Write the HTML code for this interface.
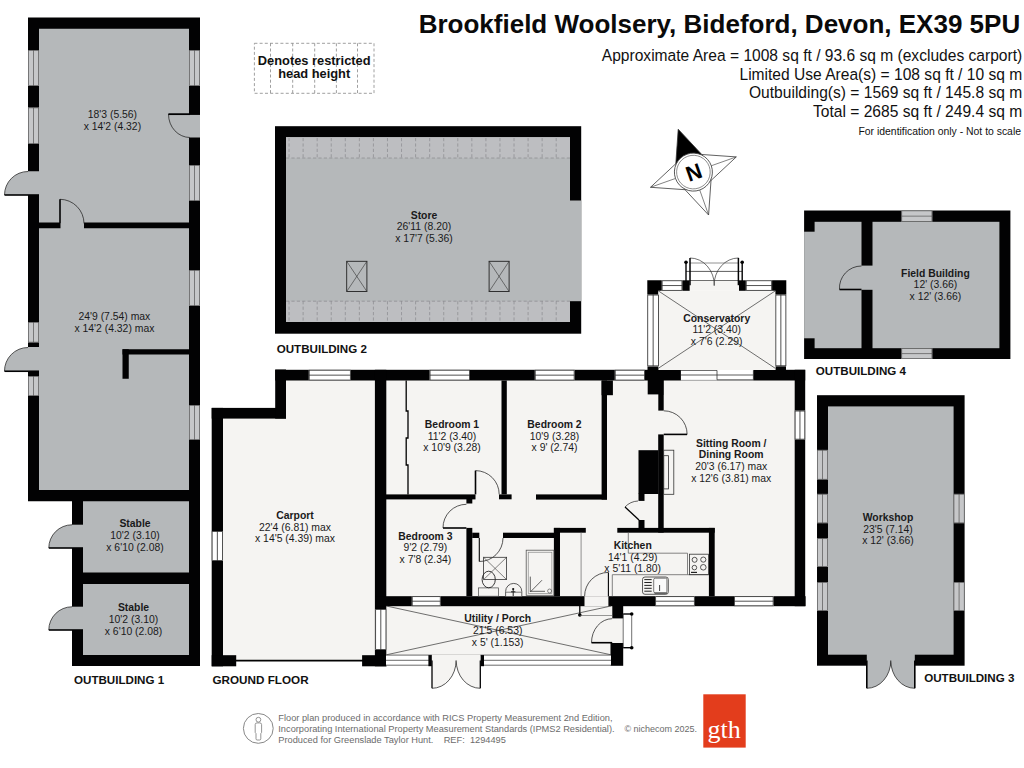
<!DOCTYPE html>
<html><head><meta charset="utf-8"><title>Floor plan - Brookfield Woolsery</title>
<style>
html,body{margin:0;padding:0;background:#ffffff;}
svg{display:block;font-family:"Liberation Sans", sans-serif;}
</style></head>
<body>
<svg width="1024" height="768" viewBox="0 0 1024 768">
<rect x="0" y="0" width="1024" height="768" fill="#ffffff"/>
<rect x="28.00" y="17.50" width="172.00" height="483.75" fill="#020203"/>
<rect x="72.00" y="490.00" width="128.00" height="176.00" fill="#020203"/>
<rect x="39.00" y="28.75" width="150.00" height="193.75" fill="#b5b8ba"/>
<rect x="39.00" y="228.25" width="150.00" height="261.75" fill="#b5b8ba"/>
<rect x="60.50" y="222.00" width="23.50" height="7.00" fill="#b5b8ba"/>
<rect x="122.50" y="349.25" width="66.50" height="5.25" fill="#020203"/>
<rect x="122.50" y="349.25" width="6.25" height="29.50" fill="#020203"/>
<rect x="83.00" y="501.25" width="106.00" height="71.25" fill="#b5b8ba"/>
<rect x="83.00" y="584.00" width="106.00" height="71.00" fill="#b5b8ba"/>
<rect x="28.00" y="50.00" width="11.00" height="36.00" fill="#c6c7c9"/>
<rect x="28.35" y="50.35" width="10.30" height="35.30" fill="none" stroke="#555" stroke-width="0.7"/>
<line x1="33.50" y1="50.00" x2="33.50" y2="86.00" stroke="#555" stroke-width="0.7"/>
<rect x="28.00" y="107.50" width="11.00" height="36.50" fill="#c6c7c9"/>
<rect x="28.35" y="107.85" width="10.30" height="35.80" fill="none" stroke="#555" stroke-width="0.7"/>
<line x1="33.50" y1="107.50" x2="33.50" y2="144.00" stroke="#555" stroke-width="0.7"/>
<rect x="28.00" y="322.00" width="11.00" height="20.50" fill="#c6c7c9"/>
<rect x="28.35" y="322.35" width="10.30" height="19.80" fill="none" stroke="#555" stroke-width="0.7"/>
<line x1="33.50" y1="322.00" x2="33.50" y2="342.50" stroke="#555" stroke-width="0.7"/>
<rect x="28.00" y="376.00" width="11.00" height="20.00" fill="#c6c7c9"/>
<rect x="28.35" y="376.35" width="10.30" height="19.30" fill="none" stroke="#555" stroke-width="0.7"/>
<line x1="33.50" y1="376.00" x2="33.50" y2="396.00" stroke="#555" stroke-width="0.7"/>
<rect x="189.00" y="50.00" width="11.00" height="36.00" fill="#c6c7c9"/>
<rect x="189.35" y="50.35" width="10.30" height="35.30" fill="none" stroke="#555" stroke-width="0.7"/>
<line x1="194.50" y1="50.00" x2="194.50" y2="86.00" stroke="#555" stroke-width="0.7"/>
<rect x="189.00" y="165.00" width="11.00" height="36.00" fill="#c6c7c9"/>
<rect x="189.35" y="165.35" width="10.30" height="35.30" fill="none" stroke="#555" stroke-width="0.7"/>
<line x1="194.50" y1="165.00" x2="194.50" y2="201.00" stroke="#555" stroke-width="0.7"/>
<rect x="189.00" y="270.00" width="11.00" height="36.00" fill="#c6c7c9"/>
<rect x="189.35" y="270.35" width="10.30" height="35.30" fill="none" stroke="#555" stroke-width="0.7"/>
<line x1="194.50" y1="270.00" x2="194.50" y2="306.00" stroke="#555" stroke-width="0.7"/>
<rect x="189.00" y="405.00" width="11.00" height="35.00" fill="#c6c7c9"/>
<rect x="189.35" y="405.35" width="10.30" height="34.30" fill="none" stroke="#555" stroke-width="0.7"/>
<line x1="194.50" y1="405.00" x2="194.50" y2="440.00" stroke="#555" stroke-width="0.7"/>
<rect x="28.00" y="171.25" width="11.50" height="23.75" fill="#b5b8ba"/>
<path d="M28.00,195.00 L4.50,195.00 A23.50,23.50 0 0 1 28.00,171.50 Z" fill="#b5b8ba" stroke="none"/>
<path d="M4.50,195.00 A23.50,23.50 0 0 1 28.00,171.50" fill="none" stroke="#222" stroke-width="0.75"/>
<line x1="28.00" y1="195.00" x2="4.50" y2="195.00" stroke="#020203" stroke-width="1.6"/>
<line x1="28.00" y1="195.00" x2="39.00" y2="195.00" stroke="#020203" stroke-width="1.6"/>
<rect x="28.00" y="347.00" width="11.50" height="24.25" fill="#b5b8ba"/>
<path d="M28.00,371.25 L4.50,371.25 A23.50,23.50 0 0 1 28.00,347.50 Z" fill="#b5b8ba" stroke="none"/>
<path d="M4.50,371.25 A23.50,23.50 0 0 1 28.00,347.50" fill="none" stroke="#222" stroke-width="0.75"/>
<line x1="28.00" y1="371.25" x2="4.50" y2="371.25" stroke="#020203" stroke-width="1.6"/>
<line x1="28.00" y1="371.25" x2="39.00" y2="371.25" stroke="#020203" stroke-width="1.6"/>
<path d="M60.00,223.50 L60.00,199.30 A24.20,24.20 0 0 1 84.00,223.50 Z" fill="#b5b8ba" stroke="none"/>
<path d="M60.00,199.30 A24.20,24.20 0 0 1 84.00,223.50" fill="none" stroke="#222" stroke-width="0.75"/>
<line x1="60.00" y1="223.50" x2="60.00" y2="199.30" stroke="#020203" stroke-width="1.6"/>
<rect x="188.50" y="114.25" width="11.50" height="23.25" fill="#b5b8ba"/>
<path d="M190.00,114.25 L168.50,114.25 A21.50,23.25 0 0 0 190.00,137.50 Z" fill="#b5b8ba" stroke="none"/>
<path d="M168.50,114.25 A21.50,23.25 0 0 0 190.00,137.50" fill="none" stroke="#222" stroke-width="0.75"/>
<line x1="190.00" y1="114.25" x2="168.50" y2="114.25" stroke="#020203" stroke-width="1.6"/>
<line x1="168.50" y1="114.25" x2="200.00" y2="114.25" stroke="#020203" stroke-width="1.3"/>
<rect x="71.50" y="524.70" width="12.00" height="23.30" fill="#b5b8ba"/>
<path d="M72.00,548.00 L48.80,548.00 A23.20,23.20 0 0 1 72.00,524.80 Z" fill="#b5b8ba" stroke="none"/>
<path d="M48.80,548.00 A23.20,23.20 0 0 1 72.00,524.80" fill="none" stroke="#222" stroke-width="0.75"/>
<line x1="72.00" y1="548.00" x2="48.80" y2="548.00" stroke="#020203" stroke-width="1.6"/>
<line x1="72.00" y1="548.00" x2="83.00" y2="548.00" stroke="#020203" stroke-width="1.6"/>
<rect x="71.50" y="606.70" width="12.00" height="23.30" fill="#b5b8ba"/>
<path d="M72.00,630.00 L48.80,630.00 A23.20,23.20 0 0 1 72.00,606.80 Z" fill="#b5b8ba" stroke="none"/>
<path d="M48.80,630.00 A23.20,23.20 0 0 1 72.00,606.80" fill="none" stroke="#222" stroke-width="0.75"/>
<line x1="72.00" y1="630.00" x2="48.80" y2="630.00" stroke="#020203" stroke-width="1.6"/>
<line x1="72.00" y1="630.00" x2="83.00" y2="630.00" stroke="#020203" stroke-width="1.6"/>
<text x="112.40" y="118.00" font-size="10.4" font-weight="normal" text-anchor="middle" fill="#1a1a1a">18'3 (5.56)</text>
<text x="112.40" y="129.50" font-size="10.4" font-weight="normal" text-anchor="middle" fill="#1a1a1a">x 14'2 (4.32)</text>
<text x="114.40" y="320.00" font-size="10.4" font-weight="normal" text-anchor="middle" fill="#1a1a1a">24'9 (7.54) max</text>
<text x="114.40" y="331.75" font-size="10.4" font-weight="normal" text-anchor="middle" fill="#1a1a1a">x 14'2 (4.32) max</text>
<text x="135.00" y="526.75" font-size="10.4" font-weight="bold" text-anchor="middle" fill="#1a1a1a">Stable</text>
<text x="135.00" y="538.75" font-size="10.4" font-weight="normal" text-anchor="middle" fill="#1a1a1a">10'2 (3.10)</text>
<text x="135.00" y="550.75" font-size="10.4" font-weight="normal" text-anchor="middle" fill="#1a1a1a">x 6'10 (2.08)</text>
<text x="133.50" y="610.50" font-size="10.4" font-weight="bold" text-anchor="middle" fill="#1a1a1a">Stable</text>
<text x="133.50" y="622.50" font-size="10.4" font-weight="normal" text-anchor="middle" fill="#1a1a1a">10'2 (3.10)</text>
<text x="133.50" y="634.50" font-size="10.4" font-weight="normal" text-anchor="middle" fill="#1a1a1a">x 6'10 (2.08)</text>
<rect x="275.00" y="126.20" width="306.20" height="207.50" fill="#020203"/>
<rect x="286.00" y="137.20" width="284.00" height="184.80" fill="#b5b8ba"/>
<rect x="569.50" y="200.50" width="11.70" height="100.70" fill="#b5b8ba"/>
<rect x="286.00" y="137.20" width="284.00" height="20.80" fill="#bdbec1"/>
<rect x="286.00" y="301.20" width="284.00" height="20.80" fill="#bdbec1"/>
<line x1="286.00" y1="158.00" x2="570.00" y2="158.00" stroke="#85858a" stroke-width="0.65" stroke-dasharray="3.2,2.2"/>
<line x1="286.00" y1="301.20" x2="570.00" y2="301.20" stroke="#85858a" stroke-width="0.65" stroke-dasharray="3.2,2.2"/>
<line x1="289.06" y1="138.00" x2="289.06" y2="158.00" stroke="#85858a" stroke-width="0.65" stroke-dasharray="3.2,2.2"/>
<line x1="289.06" y1="301.20" x2="289.06" y2="321.50" stroke="#85858a" stroke-width="0.65" stroke-dasharray="3.2,2.2"/>
<line x1="303.12" y1="138.00" x2="303.12" y2="158.00" stroke="#85858a" stroke-width="0.65" stroke-dasharray="3.2,2.2"/>
<line x1="303.12" y1="301.20" x2="303.12" y2="321.50" stroke="#85858a" stroke-width="0.65" stroke-dasharray="3.2,2.2"/>
<line x1="317.18" y1="138.00" x2="317.18" y2="158.00" stroke="#85858a" stroke-width="0.65" stroke-dasharray="3.2,2.2"/>
<line x1="317.18" y1="301.20" x2="317.18" y2="321.50" stroke="#85858a" stroke-width="0.65" stroke-dasharray="3.2,2.2"/>
<line x1="331.24" y1="138.00" x2="331.24" y2="158.00" stroke="#85858a" stroke-width="0.65" stroke-dasharray="3.2,2.2"/>
<line x1="331.24" y1="301.20" x2="331.24" y2="321.50" stroke="#85858a" stroke-width="0.65" stroke-dasharray="3.2,2.2"/>
<line x1="345.30" y1="138.00" x2="345.30" y2="158.00" stroke="#85858a" stroke-width="0.65" stroke-dasharray="3.2,2.2"/>
<line x1="345.30" y1="301.20" x2="345.30" y2="321.50" stroke="#85858a" stroke-width="0.65" stroke-dasharray="3.2,2.2"/>
<line x1="359.36" y1="138.00" x2="359.36" y2="158.00" stroke="#85858a" stroke-width="0.65" stroke-dasharray="3.2,2.2"/>
<line x1="359.36" y1="301.20" x2="359.36" y2="321.50" stroke="#85858a" stroke-width="0.65" stroke-dasharray="3.2,2.2"/>
<line x1="373.42" y1="138.00" x2="373.42" y2="158.00" stroke="#85858a" stroke-width="0.65" stroke-dasharray="3.2,2.2"/>
<line x1="373.42" y1="301.20" x2="373.42" y2="321.50" stroke="#85858a" stroke-width="0.65" stroke-dasharray="3.2,2.2"/>
<line x1="387.48" y1="138.00" x2="387.48" y2="158.00" stroke="#85858a" stroke-width="0.65" stroke-dasharray="3.2,2.2"/>
<line x1="387.48" y1="301.20" x2="387.48" y2="321.50" stroke="#85858a" stroke-width="0.65" stroke-dasharray="3.2,2.2"/>
<line x1="401.54" y1="138.00" x2="401.54" y2="158.00" stroke="#85858a" stroke-width="0.65" stroke-dasharray="3.2,2.2"/>
<line x1="401.54" y1="301.20" x2="401.54" y2="321.50" stroke="#85858a" stroke-width="0.65" stroke-dasharray="3.2,2.2"/>
<line x1="415.60" y1="138.00" x2="415.60" y2="158.00" stroke="#85858a" stroke-width="0.65" stroke-dasharray="3.2,2.2"/>
<line x1="415.60" y1="301.20" x2="415.60" y2="321.50" stroke="#85858a" stroke-width="0.65" stroke-dasharray="3.2,2.2"/>
<line x1="429.66" y1="138.00" x2="429.66" y2="158.00" stroke="#85858a" stroke-width="0.65" stroke-dasharray="3.2,2.2"/>
<line x1="429.66" y1="301.20" x2="429.66" y2="321.50" stroke="#85858a" stroke-width="0.65" stroke-dasharray="3.2,2.2"/>
<line x1="443.72" y1="138.00" x2="443.72" y2="158.00" stroke="#85858a" stroke-width="0.65" stroke-dasharray="3.2,2.2"/>
<line x1="443.72" y1="301.20" x2="443.72" y2="321.50" stroke="#85858a" stroke-width="0.65" stroke-dasharray="3.2,2.2"/>
<line x1="457.78" y1="138.00" x2="457.78" y2="158.00" stroke="#85858a" stroke-width="0.65" stroke-dasharray="3.2,2.2"/>
<line x1="457.78" y1="301.20" x2="457.78" y2="321.50" stroke="#85858a" stroke-width="0.65" stroke-dasharray="3.2,2.2"/>
<line x1="471.84" y1="138.00" x2="471.84" y2="158.00" stroke="#85858a" stroke-width="0.65" stroke-dasharray="3.2,2.2"/>
<line x1="471.84" y1="301.20" x2="471.84" y2="321.50" stroke="#85858a" stroke-width="0.65" stroke-dasharray="3.2,2.2"/>
<line x1="485.90" y1="138.00" x2="485.90" y2="158.00" stroke="#85858a" stroke-width="0.65" stroke-dasharray="3.2,2.2"/>
<line x1="485.90" y1="301.20" x2="485.90" y2="321.50" stroke="#85858a" stroke-width="0.65" stroke-dasharray="3.2,2.2"/>
<line x1="499.96" y1="138.00" x2="499.96" y2="158.00" stroke="#85858a" stroke-width="0.65" stroke-dasharray="3.2,2.2"/>
<line x1="499.96" y1="301.20" x2="499.96" y2="321.50" stroke="#85858a" stroke-width="0.65" stroke-dasharray="3.2,2.2"/>
<line x1="514.02" y1="138.00" x2="514.02" y2="158.00" stroke="#85858a" stroke-width="0.65" stroke-dasharray="3.2,2.2"/>
<line x1="514.02" y1="301.20" x2="514.02" y2="321.50" stroke="#85858a" stroke-width="0.65" stroke-dasharray="3.2,2.2"/>
<line x1="528.08" y1="138.00" x2="528.08" y2="158.00" stroke="#85858a" stroke-width="0.65" stroke-dasharray="3.2,2.2"/>
<line x1="528.08" y1="301.20" x2="528.08" y2="321.50" stroke="#85858a" stroke-width="0.65" stroke-dasharray="3.2,2.2"/>
<line x1="542.14" y1="138.00" x2="542.14" y2="158.00" stroke="#85858a" stroke-width="0.65" stroke-dasharray="3.2,2.2"/>
<line x1="542.14" y1="301.20" x2="542.14" y2="321.50" stroke="#85858a" stroke-width="0.65" stroke-dasharray="3.2,2.2"/>
<line x1="556.20" y1="138.00" x2="556.20" y2="158.00" stroke="#85858a" stroke-width="0.65" stroke-dasharray="3.2,2.2"/>
<line x1="556.20" y1="301.20" x2="556.20" y2="321.50" stroke="#85858a" stroke-width="0.65" stroke-dasharray="3.2,2.2"/>
<rect x="346.7" y="261.3" width="20.20" height="30.20" fill="none" stroke="#222" stroke-width="0.9"/>
<line x1="346.70" y1="261.30" x2="366.90" y2="291.50" stroke="#333" stroke-width="0.6"/>
<line x1="366.90" y1="261.30" x2="346.70" y2="291.50" stroke="#333" stroke-width="0.6"/>
<rect x="489.1" y="261.3" width="20.00" height="30.20" fill="none" stroke="#222" stroke-width="0.9"/>
<line x1="489.10" y1="261.30" x2="509.10" y2="291.50" stroke="#333" stroke-width="0.6"/>
<line x1="509.10" y1="261.30" x2="489.10" y2="291.50" stroke="#333" stroke-width="0.6"/>
<text x="424.00" y="218.50" font-size="10.4" font-weight="bold" text-anchor="middle" fill="#1a1a1a">Store</text>
<text x="424.00" y="230.15" font-size="10.4" font-weight="normal" text-anchor="middle" fill="#1a1a1a">26'11 (8.20)</text>
<text x="424.00" y="241.80" font-size="10.4" font-weight="normal" text-anchor="middle" fill="#1a1a1a">x 17'7 (5.36)</text>
<rect x="804.10" y="210.50" width="206.30" height="148.50" fill="#020203"/>
<rect x="814.60" y="221.80" width="46.90" height="126.40" fill="#b5b8ba"/>
<rect x="804.10" y="231.70" width="10.90" height="106.60" fill="#b5b8ba"/>
<rect x="872.50" y="221.80" width="126.90" height="126.40" fill="#b5b8ba"/>
<rect x="861.00" y="265.60" width="12.00" height="24.20" fill="#b5b8ba"/>
<path d="M861.50,289.50 L839.50,289.50 A22.00,22.00 0 0 1 861.50,266.00 Z" fill="#b5b8ba" stroke="none"/>
<path d="M839.50,289.50 A22.00,22.00 0 0 1 861.50,266.00" fill="none" stroke="#222" stroke-width="0.75"/>
<line x1="861.50" y1="289.50" x2="839.50" y2="289.50" stroke="#020203" stroke-width="1.6"/>
<rect x="901.40" y="210.50" width="30.90" height="11.30" fill="#c6c7c9"/>
<rect x="901.75" y="210.85" width="30.20" height="10.60" fill="none" stroke="#555" stroke-width="0.7"/>
<line x1="901.40" y1="216.15" x2="932.30" y2="216.15" stroke="#555" stroke-width="0.7"/>
<rect x="901.40" y="348.20" width="30.90" height="10.80" fill="#c6c7c9"/>
<rect x="901.75" y="348.55" width="30.20" height="10.10" fill="none" stroke="#555" stroke-width="0.7"/>
<line x1="901.40" y1="353.60" x2="932.30" y2="353.60" stroke="#555" stroke-width="0.7"/>
<text x="935.40" y="276.70" font-size="10.4" font-weight="bold" text-anchor="middle" fill="#1a1a1a">Field Building</text>
<text x="935.40" y="288.15" font-size="10.4" font-weight="normal" text-anchor="middle" fill="#1a1a1a">12' (3.66)</text>
<text x="935.40" y="299.60" font-size="10.4" font-weight="normal" text-anchor="middle" fill="#1a1a1a">x 12' (3.66)</text>
<rect x="817.00" y="395.20" width="147.60" height="270.50" fill="#020203"/>
<rect x="828.00" y="406.40" width="125.60" height="248.30" fill="#b5b8ba"/>
<rect x="817.00" y="449.90" width="11.00" height="29.70" fill="#c6c7c9"/>
<rect x="817.35" y="450.25" width="10.30" height="29.00" fill="none" stroke="#555" stroke-width="0.7"/>
<line x1="822.50" y1="449.90" x2="822.50" y2="479.60" stroke="#555" stroke-width="0.7"/>
<rect x="817.00" y="493.90" width="11.00" height="29.30" fill="#c6c7c9"/>
<rect x="817.35" y="494.25" width="10.30" height="28.60" fill="none" stroke="#555" stroke-width="0.7"/>
<line x1="822.50" y1="493.90" x2="822.50" y2="523.20" stroke="#555" stroke-width="0.7"/>
<rect x="817.00" y="538.30" width="11.00" height="28.60" fill="#c6c7c9"/>
<rect x="817.35" y="538.65" width="10.30" height="27.90" fill="none" stroke="#555" stroke-width="0.7"/>
<line x1="822.50" y1="538.30" x2="822.50" y2="566.90" stroke="#555" stroke-width="0.7"/>
<rect x="817.00" y="582.10" width="11.00" height="28.80" fill="#c6c7c9"/>
<rect x="817.35" y="582.45" width="10.30" height="28.10" fill="none" stroke="#555" stroke-width="0.7"/>
<line x1="822.50" y1="582.10" x2="822.50" y2="610.90" stroke="#555" stroke-width="0.7"/>
<rect x="953.60" y="493.90" width="11.00" height="29.30" fill="#c6c7c9"/>
<rect x="953.95" y="494.25" width="10.30" height="28.60" fill="none" stroke="#555" stroke-width="0.7"/>
<line x1="959.10" y1="493.90" x2="959.10" y2="523.20" stroke="#555" stroke-width="0.7"/>
<rect x="953.60" y="582.10" width="11.00" height="28.80" fill="#c6c7c9"/>
<rect x="953.95" y="582.45" width="10.30" height="28.10" fill="none" stroke="#555" stroke-width="0.7"/>
<line x1="959.10" y1="582.10" x2="959.10" y2="610.90" stroke="#555" stroke-width="0.7"/>
<rect x="866.80" y="654.00" width="48.00" height="12.00" fill="#b5b8ba"/>
<path d="M866.80,660.60 L866.80,688.30 A24.00,27.70 0 0 0 890.80,660.60 Z" fill="#b5b8ba" stroke="none"/>
<path d="M866.80,688.30 A24.00,27.70 0 0 0 890.80,660.60" fill="none" stroke="#222" stroke-width="0.75"/>
<line x1="866.80" y1="660.60" x2="866.80" y2="688.30" stroke="#020203" stroke-width="1.6"/>
<path d="M914.80,660.60 L914.80,688.30 A24.00,27.70 0 0 1 890.80,660.60 Z" fill="#b5b8ba" stroke="none"/>
<path d="M914.80,688.30 A24.00,27.70 0 0 1 890.80,660.60" fill="none" stroke="#222" stroke-width="0.75"/>
<line x1="914.80" y1="660.60" x2="914.80" y2="688.30" stroke="#020203" stroke-width="1.6"/>
<text x="888.00" y="521.00" font-size="10.4" font-weight="bold" text-anchor="middle" fill="#1a1a1a">Workshop</text>
<text x="888.00" y="532.60" font-size="10.4" font-weight="normal" text-anchor="middle" fill="#1a1a1a">23'5 (7.14)</text>
<text x="888.00" y="544.20" font-size="10.4" font-weight="normal" text-anchor="middle" fill="#1a1a1a">x 12' (3.66)</text>
<rect x="223.00" y="418.60" width="163.00" height="241.90" fill="#f5f4f2"/>
<rect x="286.00" y="380.00" width="100.00" height="39.00" fill="#f5f4f2"/>
<rect x="386.00" y="380.00" width="414.00" height="226.00" fill="#f5f4f2"/>
<rect x="386.00" y="600.00" width="237.00" height="55.50" fill="#f5f4f2"/>
<rect x="211.70" y="407.90" width="11.30" height="258.40" fill="#020203"/>
<rect x="211.70" y="407.90" width="74.30" height="10.70" fill="#020203"/>
<rect x="275.20" y="369.50" width="10.80" height="49.10" fill="#020203"/>
<rect x="211.70" y="655.20" width="24.50" height="11.10" fill="#020203"/>
<line x1="236.00" y1="660.60" x2="363.00" y2="660.60" stroke="#020203" stroke-width="1.6"/>
<rect x="211.70" y="531.00" width="11.30" height="30.00" fill="#ffffff"/>
<rect x="212.12" y="531.42" width="10.45" height="29.15" fill="none" stroke="#333" stroke-width="0.85"/>
<line x1="217.35" y1="531.00" x2="217.35" y2="561.00" stroke="#333" stroke-width="0.85"/>
<rect x="275.20" y="369.80" width="530.00" height="10.70" fill="#020203"/>
<rect x="308.80" y="369.80" width="42.00" height="10.70" fill="#ffffff"/>
<rect x="309.23" y="370.23" width="41.15" height="9.85" fill="none" stroke="#333" stroke-width="0.85"/>
<line x1="308.80" y1="375.15" x2="350.80" y2="375.15" stroke="#333" stroke-width="0.85"/>
<rect x="429.60" y="369.80" width="40.40" height="10.70" fill="#ffffff"/>
<rect x="430.03" y="370.23" width="39.55" height="9.85" fill="none" stroke="#333" stroke-width="0.85"/>
<line x1="429.60" y1="375.15" x2="470.00" y2="375.15" stroke="#333" stroke-width="0.85"/>
<rect x="534.80" y="369.80" width="39.80" height="10.70" fill="#ffffff"/>
<rect x="535.22" y="370.23" width="38.95" height="9.85" fill="none" stroke="#333" stroke-width="0.85"/>
<line x1="534.80" y1="375.15" x2="574.60" y2="375.15" stroke="#333" stroke-width="0.85"/>
<rect x="614.80" y="369.80" width="30.20" height="10.70" fill="#ffffff"/>
<rect x="615.22" y="370.23" width="29.35" height="9.85" fill="none" stroke="#333" stroke-width="0.85"/>
<line x1="614.80" y1="375.15" x2="645.00" y2="375.15" stroke="#333" stroke-width="0.85"/>
<rect x="680.90" y="369.80" width="72.50" height="10.70" fill="#ffffff"/>
<line x1="680.90" y1="370.40" x2="717.00" y2="370.40" stroke="#333" stroke-width="0.8"/>
<line x1="680.90" y1="375.00" x2="717.00" y2="375.00" stroke="#333" stroke-width="0.8"/>
<line x1="717.00" y1="370.40" x2="717.00" y2="379.80" stroke="#333" stroke-width="0.8"/>
<line x1="717.00" y1="375.00" x2="753.40" y2="375.00" stroke="#333" stroke-width="0.8"/>
<line x1="717.00" y1="379.80" x2="753.40" y2="379.80" stroke="#333" stroke-width="0.8"/>
<line x1="680.90" y1="380.20" x2="717.00" y2="380.20" stroke="#999" stroke-width="0.5"/>
<line x1="753.40" y1="370.40" x2="753.40" y2="380.00" stroke="#333" stroke-width="0.8"/>
<rect x="647.50" y="366.30" width="11.10" height="4.20" fill="#020203"/>
<rect x="647.70" y="380.00" width="16.10" height="14.40" fill="#020203"/>
<rect x="658.30" y="394.00" width="5.40" height="16.60" fill="#020203"/>
<rect x="775.40" y="366.20" width="10.60" height="4.80" fill="#020203"/>
<rect x="794.70" y="369.80" width="10.50" height="236.40" fill="#020203"/>
<rect x="794.70" y="410.60" width="10.50" height="29.00" fill="#ffffff"/>
<rect x="795.12" y="411.03" width="9.65" height="28.15" fill="none" stroke="#333" stroke-width="0.85"/>
<line x1="799.95" y1="410.60" x2="799.95" y2="439.60" stroke="#333" stroke-width="0.85"/>
<rect x="374.90" y="369.80" width="11.40" height="296.50" fill="#020203"/>
<rect x="362.10" y="655.20" width="24.40" height="11.10" fill="#020203"/>
<rect x="375.20" y="609.00" width="11.20" height="41.00" fill="#ffffff"/>
<rect x="375.62" y="609.42" width="10.35" height="40.15" fill="none" stroke="#333" stroke-width="0.85"/>
<line x1="380.80" y1="609.00" x2="380.80" y2="650.00" stroke="#333" stroke-width="0.85"/>
<rect x="375.00" y="596.20" width="430.60" height="10.00" fill="#020203"/>
<rect x="584.50" y="596.20" width="23.90" height="10.00" fill="#f5f4f2"/>
<rect x="411.80" y="596.20" width="28.90" height="10.00" fill="#ffffff"/>
<rect x="412.23" y="596.62" width="28.05" height="9.15" fill="none" stroke="#333" stroke-width="0.85"/>
<line x1="411.80" y1="601.20" x2="440.70" y2="601.20" stroke="#333" stroke-width="0.85"/>
<rect x="655.20" y="596.20" width="39.60" height="10.00" fill="#ffffff"/>
<rect x="655.62" y="596.62" width="38.75" height="9.15" fill="none" stroke="#333" stroke-width="0.85"/>
<line x1="655.20" y1="601.20" x2="694.80" y2="601.20" stroke="#333" stroke-width="0.85"/>
<rect x="734.00" y="596.20" width="39.60" height="10.00" fill="#ffffff"/>
<rect x="734.42" y="596.62" width="38.75" height="9.15" fill="none" stroke="#333" stroke-width="0.85"/>
<line x1="734.00" y1="601.20" x2="773.60" y2="601.20" stroke="#333" stroke-width="0.85"/>
<rect x="501.50" y="380.50" width="5.30" height="113.90" fill="#020203"/>
<rect x="499.00" y="494.40" width="12.60" height="4.90" fill="#020203"/>
<rect x="386.00" y="494.40" width="89.50" height="5.00" fill="#020203"/>
<rect x="466.40" y="499.00" width="5.90" height="4.50" fill="#020203"/>
<path d="M475.50,494.40 L475.50,470.60 A23.80,23.80 0 0 1 499.20,494.40 Z" fill="#f5f4f2" stroke="none"/>
<path d="M475.50,470.60 A23.80,23.80 0 0 1 499.20,494.40" fill="none" stroke="#222" stroke-width="0.75"/>
<line x1="475.50" y1="494.40" x2="475.50" y2="470.60" stroke="#020203" stroke-width="1.6"/>
<path d="M406.2,380.5 V411 H408 V438 H406.2 V465 H408 V494.4" fill="none" stroke="#000" stroke-width="1.3"/>
<rect x="536.00" y="494.40" width="71.00" height="5.20" fill="#020203"/>
<rect x="601.60" y="380.50" width="5.40" height="119.10" fill="#020203"/>
<rect x="601.60" y="380.50" width="11.30" height="14.70" fill="#020203"/>
<rect x="658.20" y="434.40" width="5.50" height="98.20" fill="#020203"/>
<path d="M663.70,434.40 L687.10,434.40 A23.40,23.40 0 0 0 663.70,410.80 Z" fill="#f5f4f2" stroke="none"/>
<path d="M687.10,434.40 A23.40,23.40 0 0 0 663.70,410.80" fill="none" stroke="#222" stroke-width="0.75"/>
<line x1="663.70" y1="434.40" x2="687.10" y2="434.40" stroke="#020203" stroke-width="1.6"/>
<rect x="638.50" y="450.20" width="20.00" height="43.80" fill="#020203"/>
<rect x="638.50" y="493.50" width="6.00" height="7.40" fill="#020203"/>
<rect x="663.7" y="450.2" width="10.1" height="44.1" fill="none" stroke="#333" stroke-width="0.8"/>
<rect x="663.7" y="455.7" width="4.7" height="33.2" fill="none" stroke="#333" stroke-width="0.8"/>
<rect x="638.50" y="520.00" width="6.00" height="8.00" fill="#020203"/>
<path d="M639,520 L625,507 A19,19 0 0 1 638,501 L644,501 L644,520 Z" fill="#f5f4f2" stroke="none"/>
<path d="M625,507 A19,19 0 0 1 638,501" fill="none" stroke="#222" stroke-width="0.7"/>
<line x1="639.00" y1="520.00" x2="625.00" y2="507.00" stroke="#020203" stroke-width="1.3"/>
<rect x="466.40" y="527.90" width="5.90" height="68.30" fill="#020203"/>
<path d="M466.40,528.00 L443.00,528.00 A23.40,23.40 0 0 1 466.40,504.30 Z" fill="#f5f4f2" stroke="none"/>
<path d="M443.00,528.00 A23.40,23.40 0 0 1 466.40,504.30" fill="none" stroke="#222" stroke-width="0.75"/>
<line x1="466.40" y1="528.00" x2="443.00" y2="528.00" stroke="#020203" stroke-width="1.6"/>
<rect x="472.20" y="532.70" width="7.10" height="5.30" fill="#020203"/>
<rect x="503.00" y="532.70" width="51.60" height="5.30" fill="#020203"/>
<rect x="553.90" y="527.90" width="6.10" height="68.30" fill="#020203"/>
<rect x="553.90" y="527.90" width="31.90" height="4.80" fill="#020203"/>
<path d="M479.30,538.00 L479.30,561.50 A23.50,23.50 0 0 0 503.00,538.00 Z" fill="#f5f4f2" stroke="none"/>
<path d="M479.30,561.50 A23.50,23.50 0 0 0 503.00,538.00" fill="none" stroke="#222" stroke-width="0.75"/>
<line x1="479.30" y1="538.00" x2="479.30" y2="561.50" stroke="#020203" stroke-width="1.1"/>
<line x1="581.10" y1="532.70" x2="581.10" y2="596.20" stroke="#777" stroke-width="0.8"/>
<rect x="483.6" y="557.3" width="23" height="22.3" fill="none" stroke="#333" stroke-width="0.8"/>
<line x1="483.60" y1="557.30" x2="506.60" y2="579.60" stroke="#333" stroke-width="0.6"/>
<line x1="506.60" y1="557.30" x2="483.60" y2="579.60" stroke="#333" stroke-width="0.6"/>
<rect x="478.6" y="587.9" width="19.8" height="8.3" fill="#f5f4f2" stroke="#444" stroke-width="0.7"/>
<ellipse cx="488.7" cy="579.5" rx="6.6" ry="8.3" fill="none" stroke="#222" stroke-width="0.9"/>
<path d="M505.6,596.2 V591.5 A8.1,8.1 0 0 1 521.8,591.5 V596.2" fill="#f5f4f2" stroke="#333" stroke-width="0.8"/>
<line x1="506.00" y1="592.20" x2="521.40" y2="592.20" stroke="#444" stroke-width="0.7"/>
<line x1="513.20" y1="589.00" x2="513.20" y2="596.00" stroke="#222" stroke-width="1"/>
<circle cx="513.2" cy="589" r="1.1" fill="#111"/>
<line x1="511.00" y1="591.80" x2="515.40" y2="591.80" stroke="#222" stroke-width="1"/>
<rect x="526.2" y="550.2" width="27.7" height="45.1" fill="none" stroke="#555" stroke-width="0.8"/>
<rect x="528.2" y="552.2" width="23.7" height="41.1" fill="none" stroke="#777" stroke-width="0.6"/>
<path d="M530.3,576.6 V592 M530.8,591.3 H545 M530.3,592 L542,580.2" fill="none" stroke="#333" stroke-width="0.75"/>
<circle cx="549.6" cy="591" r="2" fill="none" stroke="#444" stroke-width="0.6"/>
<rect x="617.30" y="527.90" width="97.40" height="4.80" fill="#020203"/>
<rect x="708.90" y="527.90" width="5.80" height="68.30" fill="#020203"/>
<path d="M628.3,532.7 V553.2 H687.5 V574.7 M612.3,574.7 H708.9 M612.3,574.7 V596.2" fill="none" stroke="#666" stroke-width="0.8"/>
<rect x="689.4" y="554.2" width="19" height="20.5" fill="none" stroke="#333" stroke-width="0.8"/>
<circle cx="694.6" cy="559.8" r="2.5" fill="none" stroke="#222" stroke-width="0.75"/>
<circle cx="703.3" cy="559.6" r="2.6" fill="none" stroke="#222" stroke-width="0.75"/>
<circle cx="694.4" cy="567.6" r="2.3" fill="none" stroke="#222" stroke-width="0.75"/>
<circle cx="703.3" cy="567.3" r="2.8" fill="none" stroke="#222" stroke-width="0.75"/>
<line x1="691.00" y1="572.40" x2="697.00" y2="572.40" stroke="#222" stroke-width="1.2"/>
<rect x="642.5" y="577" width="25.8" height="17.3" rx="2.5" fill="none" stroke="#333" stroke-width="0.8"/>
<rect x="653.7" y="578.2" width="13.2" height="14.6" rx="1.5" fill="#fbfbfb" stroke="#444" stroke-width="0.7"/>
<line x1="644.30" y1="579.60" x2="651.70" y2="579.60" stroke="#222" stroke-width="1.0"/>
<line x1="644.30" y1="582.50" x2="651.70" y2="582.50" stroke="#222" stroke-width="1.0"/>
<line x1="644.30" y1="585.40" x2="651.70" y2="585.40" stroke="#222" stroke-width="1.0"/>
<line x1="644.30" y1="588.30" x2="651.70" y2="588.30" stroke="#222" stroke-width="1.0"/>
<line x1="644.30" y1="591.20" x2="651.70" y2="591.20" stroke="#222" stroke-width="1.0"/>
<line x1="659.60" y1="585.00" x2="659.60" y2="591.00" stroke="#444" stroke-width="1.0"/>
<line x1="654.50" y1="593.20" x2="667.00" y2="593.20" stroke="#333" stroke-width="0.9"/>
<path d="M608.40,596.20 L608.40,572.40 A23.80,23.80 0 0 0 584.60,596.20 Z" fill="#f5f4f2" stroke="none"/>
<path d="M608.40,572.40 A23.80,23.80 0 0 0 584.60,596.20" fill="none" stroke="#222" stroke-width="0.75"/>
<line x1="608.40" y1="596.20" x2="608.40" y2="572.40" stroke="#020203" stroke-width="1.1"/>
<rect x="612.30" y="606.00" width="10.90" height="12.40" fill="#020203"/>
<rect x="610.50" y="643.00" width="12.70" height="22.80" fill="#020203"/>
<rect x="386.00" y="655.00" width="225.00" height="10.50" fill="#ffffff"/>
<line x1="386.00" y1="655.10" x2="611.00" y2="655.10" stroke="#444" stroke-width="0.8"/>
<line x1="386.00" y1="660.30" x2="611.00" y2="660.30" stroke="#444" stroke-width="0.8"/>
<line x1="386.00" y1="665.20" x2="611.00" y2="665.20" stroke="#444" stroke-width="0.8"/>
<rect x="428.40" y="655.10" width="3.50" height="11.10" fill="#020203"/>
<rect x="480.40" y="655.10" width="3.60" height="11.10" fill="#020203"/>
<rect x="431.90" y="654.50" width="48.50" height="12.50" fill="#f5f4f2"/>
<path d="M432.00,660.50 L432.00,688.30 A24.10,27.80 0 0 0 456.10,660.50 Z" fill="#f5f4f2" stroke="none"/>
<path d="M432.00,688.30 A24.10,27.80 0 0 0 456.10,660.50" fill="none" stroke="#222" stroke-width="0.75"/>
<line x1="432.00" y1="660.50" x2="432.00" y2="688.30" stroke="#020203" stroke-width="1.3"/>
<path d="M480.30,660.50 L480.30,688.30 A24.10,27.80 0 0 1 456.20,660.50 Z" fill="#f5f4f2" stroke="none"/>
<path d="M480.30,688.30 A24.10,27.80 0 0 1 456.20,660.50" fill="none" stroke="#222" stroke-width="0.75"/>
<line x1="480.30" y1="660.50" x2="480.30" y2="688.30" stroke="#020203" stroke-width="1.3"/>
<path d="M612.20,642.70 L591.50,642.70 A20.70,24.00 0 0 1 612.20,618.70 Z" fill="#f5f4f2" stroke="none"/>
<path d="M591.50,642.70 A20.70,24.00 0 0 1 612.20,618.70" fill="none" stroke="#222" stroke-width="0.75"/>
<line x1="612.20" y1="642.70" x2="591.50" y2="642.70" stroke="#020203" stroke-width="1.6"/>
<line x1="623.20" y1="614.00" x2="623.20" y2="647.70" stroke="#333" stroke-width="0.7"/>
<line x1="631.70" y1="614.00" x2="631.70" y2="647.70" stroke="#333" stroke-width="0.7"/>
<line x1="623.20" y1="614.00" x2="631.70" y2="614.00" stroke="#020203" stroke-width="1.4"/>
<line x1="623.20" y1="647.70" x2="631.70" y2="647.70" stroke="#020203" stroke-width="1.4"/>
<circle cx="631.7" cy="614" r="1.8" fill="#000"/>
<circle cx="631.7" cy="647.7" r="1.8" fill="#000"/>
<line x1="579.80" y1="606.00" x2="579.80" y2="615.00" stroke="#020203" stroke-width="1.3"/>
<circle cx="579.8" cy="615" r="1.8" fill="#000"/>
<line x1="579.80" y1="615.50" x2="612.20" y2="615.50" stroke="#555" stroke-width="0.6"/>
<line x1="386.40" y1="606.00" x2="611.00" y2="654.80" stroke="#333" stroke-width="0.7"/>
<line x1="386.40" y1="654.80" x2="611.00" y2="606.00" stroke="#333" stroke-width="0.7"/>
<text x="295.00" y="519.30" font-size="10.4" font-weight="bold" text-anchor="middle" fill="#1a1a1a">Carport</text>
<text x="295.00" y="530.75" font-size="10.4" font-weight="normal" text-anchor="middle" fill="#1a1a1a">22'4 (6.81) max</text>
<text x="295.00" y="542.20" font-size="10.4" font-weight="normal" text-anchor="middle" fill="#1a1a1a">x 14'5 (4.39) max</text>
<text x="452.00" y="428.00" font-size="10.4" font-weight="bold" text-anchor="middle" fill="#1a1a1a">Bedroom 1</text>
<text x="452.00" y="439.50" font-size="10.4" font-weight="normal" text-anchor="middle" fill="#1a1a1a">11'2 (3.40)</text>
<text x="452.00" y="451.00" font-size="10.4" font-weight="normal" text-anchor="middle" fill="#1a1a1a">x 10'9 (3.28)</text>
<text x="554.50" y="428.00" font-size="10.4" font-weight="bold" text-anchor="middle" fill="#1a1a1a">Bedroom 2</text>
<text x="554.50" y="439.50" font-size="10.4" font-weight="normal" text-anchor="middle" fill="#1a1a1a">10'9 (3.28)</text>
<text x="554.50" y="451.00" font-size="10.4" font-weight="normal" text-anchor="middle" fill="#1a1a1a">x 9' (2.74)</text>
<text x="425.40" y="539.60" font-size="10.4" font-weight="bold" text-anchor="middle" fill="#1a1a1a">Bedroom 3</text>
<text x="425.40" y="551.20" font-size="10.4" font-weight="normal" text-anchor="middle" fill="#1a1a1a">9'2 (2.79)</text>
<text x="425.40" y="562.80" font-size="10.4" font-weight="normal" text-anchor="middle" fill="#1a1a1a">x 7'8 (2.34)</text>
<text x="731.20" y="446.70" font-size="10.4" font-weight="bold" text-anchor="middle" fill="#1a1a1a">Sitting Room /</text>
<text x="731.20" y="458.30" font-size="10.4" font-weight="bold" text-anchor="middle" fill="#1a1a1a">Dining Room</text>
<text x="731.20" y="469.90" font-size="10.4" font-weight="normal" text-anchor="middle" fill="#1a1a1a">20'3 (6.17) max</text>
<text x="731.20" y="481.50" font-size="10.4" font-weight="normal" text-anchor="middle" fill="#1a1a1a">x 12'6 (3.81) max</text>
<text x="632.70" y="549.30" font-size="10.4" font-weight="bold" text-anchor="middle" fill="#1a1a1a">Kitchen</text>
<text x="632.70" y="560.75" font-size="10.4" font-weight="normal" text-anchor="middle" fill="#1a1a1a">14'1 (4.29)</text>
<text x="632.70" y="572.20" font-size="10.4" font-weight="normal" text-anchor="middle" fill="#1a1a1a">x 5'11 (1.80)</text>
<text x="497.70" y="622.20" font-size="10.4" font-weight="bold" text-anchor="middle" fill="#1a1a1a">Utility / Porch</text>
<text x="497.70" y="633.95" font-size="10.4" font-weight="normal" text-anchor="middle" fill="#1a1a1a">21'5 (6.53)</text>
<text x="497.70" y="645.70" font-size="10.4" font-weight="normal" text-anchor="middle" fill="#1a1a1a">x 5' (1.153)</text>
<rect x="658.60" y="290.80" width="116.80" height="79.20" fill="#f5f4f2"/>
<rect x="647.30" y="294.60" width="11.70" height="71.70" fill="#ffffff"/>
<rect x="647.72" y="295.03" width="10.85" height="70.85" fill="none" stroke="#333" stroke-width="0.85"/>
<line x1="653.15" y1="294.60" x2="653.15" y2="366.30" stroke="#333" stroke-width="0.85"/>
<rect x="775.40" y="294.60" width="10.90" height="71.60" fill="#ffffff"/>
<rect x="775.82" y="295.03" width="10.05" height="70.75" fill="none" stroke="#333" stroke-width="0.85"/>
<line x1="780.85" y1="294.60" x2="780.85" y2="366.20" stroke="#333" stroke-width="0.85"/>
<rect x="661.70" y="280.30" width="20.70" height="10.50" fill="#ffffff"/>
<rect x="662.12" y="280.73" width="19.85" height="9.65" fill="none" stroke="#333" stroke-width="0.85"/>
<line x1="661.70" y1="285.55" x2="682.40" y2="285.55" stroke="#333" stroke-width="0.85"/>
<rect x="745.80" y="280.30" width="26.30" height="10.50" fill="#ffffff"/>
<rect x="746.22" y="280.73" width="25.45" height="9.65" fill="none" stroke="#333" stroke-width="0.85"/>
<line x1="745.80" y1="285.55" x2="772.10" y2="285.55" stroke="#333" stroke-width="0.85"/>
<path d="M647.3,280.3 H661.7 V290.8 H658.2 V294.6 H647.3 Z" fill="#000"/>
<path d="M786.3,280.3 H772.1 V290.8 H775.4 V294.6 H786.3 Z" fill="#000"/>
<rect x="682.40" y="280.30" width="7.40" height="10.50" fill="#020203"/>
<rect x="739.00" y="280.30" width="6.80" height="10.50" fill="#020203"/>
<rect x="689.80" y="280.30" width="49.20" height="10.50" fill="#f5f4f2"/>
<line x1="686.00" y1="271.40" x2="742.20" y2="271.40" stroke="#333" stroke-width="0.8"/>
<line x1="690.00" y1="263.00" x2="738.40" y2="263.00" stroke="#777" stroke-width="0.8"/>
<line x1="689.80" y1="280.50" x2="739.00" y2="280.50" stroke="#333" stroke-width="0.7"/>
<path d="M690,258 A24.4,27.6 0 0 1 714.4,285.6" fill="none" stroke="#333" stroke-width="0.7"/>
<path d="M738.4,258 A24.4,27.6 0 0 0 714,285.6" fill="none" stroke="#333" stroke-width="0.7"/>
<line x1="690.00" y1="257.90" x2="690.00" y2="285.20" stroke="#020203" stroke-width="1.5"/>
<line x1="738.40" y1="257.90" x2="738.40" y2="285.20" stroke="#020203" stroke-width="1.5"/>
<line x1="686.00" y1="262.30" x2="686.00" y2="281.00" stroke="#020203" stroke-width="1.4"/>
<line x1="742.20" y1="262.30" x2="742.20" y2="281.00" stroke="#020203" stroke-width="1.4"/>
<circle cx="686" cy="262.3" r="1.8" fill="#000"/>
<circle cx="742.2" cy="262.3" r="1.8" fill="#000"/>
<line x1="658.20" y1="290.80" x2="775.40" y2="368.40" stroke="#333" stroke-width="0.7"/>
<line x1="775.40" y1="290.80" x2="658.20" y2="368.40" stroke="#333" stroke-width="0.7"/>
<text x="716.70" y="321.60" font-size="10.4" font-weight="bold" text-anchor="middle" fill="#1a1a1a">Conservatory</text>
<text x="716.70" y="333.20" font-size="10.4" font-weight="normal" text-anchor="middle" fill="#1a1a1a">11'2 (3.40)</text>
<text x="716.70" y="344.80" font-size="10.4" font-weight="normal" text-anchor="middle" fill="#1a1a1a">x 7'6 (2.29)</text>
<g transform="translate(693.4,172.1) rotate(-19.5)"><path d="M0,-45.5 L-13.79,-13.79 L13.79,-13.79 Z" fill="#000" stroke="#333" stroke-width="0.7"/><path d="M45.5,0 L13.79,-13.79 L13.79,13.79 Z" fill="#fff" stroke="#333" stroke-width="0.7"/><line x1="45.5" y1="0" x2="0" y2="0" stroke="#444" stroke-width="0.6"/><path d="M0,45.5 L13.79,13.79 L-13.79,13.79 Z" fill="#fff" stroke="#333" stroke-width="0.7"/><line x1="0" y1="45.5" x2="0" y2="0" stroke="#444" stroke-width="0.6"/><path d="M-45.5,0 L-13.79,13.79 L-13.79,-13.79 Z" fill="#fff" stroke="#333" stroke-width="0.7"/><line x1="-45.5" y1="0" x2="0" y2="0" stroke="#444" stroke-width="0.6"/><circle cx="0" cy="0" r="19" fill="#fff" stroke="#444" stroke-width="0.8"/><circle cx="0" cy="0" r="16.8" fill="#fff" stroke="#555" stroke-width="0.6"/><text x="0.3" y="7.9" font-size="21.5" font-weight="bold" text-anchor="middle" fill="#000">N</text></g>
<text x="1020.20" y="33.30" font-size="26.0" font-weight="bold" text-anchor="end" fill="#0a0a0a">Brookfield Woolsery, Bideford, Devon, EX39 5PU</text>
<text x="1022.20" y="60.60" font-size="15.58" font-weight="normal" text-anchor="end" fill="#111">Approximate Area = 1008 sq ft / 93.6 sq m (excludes carport)</text>
<text x="1022.20" y="79.50" font-size="15.58" font-weight="normal" text-anchor="end" fill="#111">Limited Use Area(s) = 108 sq ft / 10 sq m</text>
<text x="1022.20" y="98.30" font-size="15.58" font-weight="normal" text-anchor="end" fill="#111">Outbuilding(s) = 1569 sq ft / 145.8 sq m</text>
<text x="1022.20" y="117.00" font-size="15.58" font-weight="normal" text-anchor="end" fill="#111">Total = 2685 sq ft / 249.4 sq m</text>
<text x="1021.00" y="135.40" font-size="10.42" font-weight="normal" text-anchor="end" fill="#111">For identification only - Not to scale</text>
<rect x="254.4" y="43.3" width="119.6" height="50" fill="none" stroke="#888" stroke-width="0.8" stroke-dasharray="3,2.2"/>
<line x1="270.50" y1="43.30" x2="270.50" y2="93.30" stroke="#888" stroke-width="0.8" stroke-dasharray="3,2.2"/>
<line x1="292.70" y1="43.30" x2="292.70" y2="93.30" stroke="#888" stroke-width="0.8" stroke-dasharray="3,2.2"/>
<line x1="314.70" y1="43.30" x2="314.70" y2="93.30" stroke="#888" stroke-width="0.8" stroke-dasharray="3,2.2"/>
<line x1="336.40" y1="43.30" x2="336.40" y2="93.30" stroke="#888" stroke-width="0.8" stroke-dasharray="3,2.2"/>
<line x1="357.50" y1="43.30" x2="357.50" y2="93.30" stroke="#888" stroke-width="0.8" stroke-dasharray="3,2.2"/>
<text x="314.20" y="64.70" font-size="12.85" font-weight="bold" text-anchor="middle" fill="#111">Denotes restricted</text>
<text x="314.20" y="78.40" font-size="12.85" font-weight="bold" text-anchor="middle" fill="#111">head height</text>
<text x="74.00" y="683.80" font-size="11.6" font-weight="bold" text-anchor="start" fill="#111">OUTBUILDING 1</text>
<text x="212.50" y="683.80" font-size="11.7" font-weight="bold" text-anchor="start" fill="#111">GROUND FLOOR</text>
<text x="276.70" y="352.50" font-size="11.6" font-weight="bold" text-anchor="start" fill="#111">OUTBUILDING 2</text>
<text x="815.80" y="375.40" font-size="11.6" font-weight="bold" text-anchor="start" fill="#111">OUTBUILDING 4</text>
<text x="924.20" y="681.70" font-size="11.6" font-weight="bold" text-anchor="start" fill="#111">OUTBUILDING 3</text>
<text x="278.30" y="720.50" font-size="9.25" font-weight="normal" text-anchor="start" fill="#6b6b6b">Floor plan produced in accordance with RICS Property Measurement 2nd Edition,</text>
<text x="278.30" y="731.50" font-size="9.25" font-weight="normal" text-anchor="start" fill="#6b6b6b">Incorporating International Property Measurement Standards (IPMS2 Residential).</text>
<text x="278.30" y="742.50" font-size="9.25" font-weight="normal" text-anchor="start" fill="#6b6b6b" xml:space="preserve">Produced for Greenslade Taylor Hunt.    REF:  1294495</text>
<text x="624.40" y="731.50" font-size="9.0" font-weight="normal" text-anchor="start" fill="#6b6b6b">© nichecom 2025.</text>
<circle cx="258.3" cy="728.4" r="14.9" fill="none" stroke="#7a7a7a" stroke-width="0.9"/>
<circle cx="258.4" cy="719.7" r="2.4" fill="none" stroke="#7a7a7a" stroke-width="0.8"/>
<path d="M255.2,724.6 Q255.2,722.9 257,722.9 H259.8 Q261.6,722.9 261.6,724.6 V732.4 L260.8,733.6 V738.8 Q260.8,740 259.6,740 H257.2 Q256,740 256,738.8 V733.6 L255.2,732.4 Z" fill="none" stroke="#7a7a7a" stroke-width="0.8"/>
<rect x="703.3" y="694.3" width="42.4" height="53.3" fill="#e33d1c"/>
<text x="707.5" y="738" font-family="Liberation Serif, serif" font-size="25.5" textLength="33.2" lengthAdjust="spacingAndGlyphs" fill="#fff">gth</text>
</svg>
</body></html>
